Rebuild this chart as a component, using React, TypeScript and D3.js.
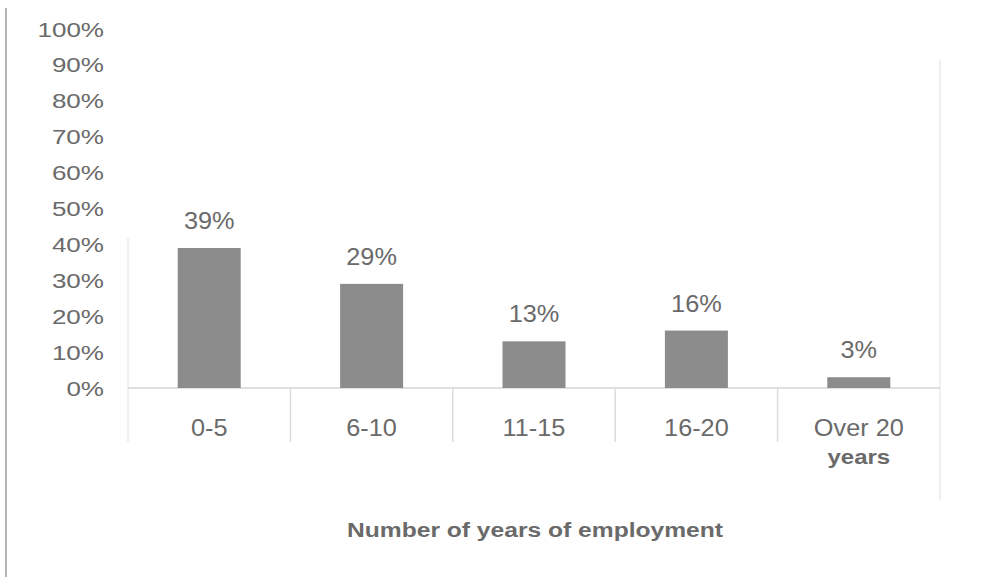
import React from "react";
import * as d3 from "d3";

const categories: string[][] = [["0-5"], ["6-10"], ["11-15"], ["16-20"], ["Over 20", "years"]];
const values: number[] = [0.39, 0.29, 0.13, 0.16, 0.03];
const valueLabels: string[] = ["39%", "29%", "13%", "16%", "3%"];
const yTicks: number[] = [0, 0.1, 0.2, 0.3, 0.4, 0.5, 0.6, 0.7, 0.8, 0.9, 1.0];
const xTitle = "Number of years of employment";

const W = 981;
const H = 577;
const FONT = "'Liberation Sans', Arial, sans-serif";
const TEXT = "#6a6a6a";
const BAR = "#8c8c8c";

export default function App() {
  const keys = categories.map((c) => c.join(" "));
  const x = d3.scaleBand<string>().domain(keys).range([128, 940]).padding(0);
  const y = d3.scaleLinear().domain([0, 1]).range([388, 29]);
  const barW = 63;
  const bw = x.bandwidth();
  const bounds = keys.map((k) => x(k) as number).concat([940]);

  return (
    <svg
      width={W}
      height={H}
      style={{ position: "absolute", left: 0, top: 0, background: "#fff" }}
      fontFamily={FONT}
    >
      {/* frame lines */}
      <line x1={6} x2={6} y1={8} y2={H} stroke="#b5b5b5" strokeWidth={2} />
      <line x1={940} x2={940} y1={60} y2={500} stroke="#f0f0f0" strokeWidth={2} />
      {/* left axis faint */}
      <line x1={128} x2={128} y1={238} y2={442} stroke="#e2e2e2" strokeWidth={1} />
      {/* baseline */}
      <line x1={128} x2={940} y1={y(0)} y2={y(0)} stroke="#d4d4d4" strokeWidth={1.5} />
      {/* category dividers */}
      {bounds.slice(1, 5).map((b, i) => (
        <line key={i} x1={b} x2={b} y1={y(0)} y2={442} stroke="#dcdcdc" strokeWidth={1.5} />
      ))}
      {/* y tick labels */}
      {yTicks.map((t) => (
        <g key={t} transform={`translate(104,${y(t) + 7.5}) scale(1.24,1)`}>
          <text textAnchor="end" fontSize={21} fill={TEXT}>
            {d3.format(".0%")(t)}
          </text>
        </g>
      ))}
      {/* bars */}
      {keys.map((k, i) => (
        <rect
          key={k}
          x={(x(k) as number) + (bw - barW) / 2}
          y={y(values[i])}
          width={barW}
          height={y(0) - y(values[i])}
          fill={BAR}
        />
      ))}
      {/* value labels */}
      {keys.map((k, i) => (
        <g key={k} transform={`translate(${(x(k) as number) + bw / 2},${y(values[i]) - 19}) scale(1.1,1)`}>
          <text textAnchor="middle" fontSize={23} fill={TEXT}>
            {valueLabels[i]}
          </text>
        </g>
      ))}
      {/* category labels */}
      {categories.map((c, i) => (
        <g key={i}>
          <g transform={`translate(${(x(keys[i]) as number) + bw / 2},436) scale(1.1,1)`}>
            <text textAnchor="middle" fontSize={23} fill={TEXT}>
              {c[0]}
            </text>
          </g>
          {c[1] && (
            <g transform={`translate(${(x(keys[i]) as number) + bw / 2},464) scale(1.2,1)`}>
              <text textAnchor="middle" fontSize={20} fontWeight="bold" fill={TEXT}>
                {c[1]}
              </text>
            </g>
          )}
        </g>
      ))}
      {/* x title */}
      <text
        x={535}
        y={537}
        textAnchor="middle"
        fontSize={20}
        fontWeight="bold"
        fill={TEXT}
        textLength={376}
        lengthAdjust="spacingAndGlyphs"
      >
        {xTitle}
      </text>
    </svg>
  );
}
